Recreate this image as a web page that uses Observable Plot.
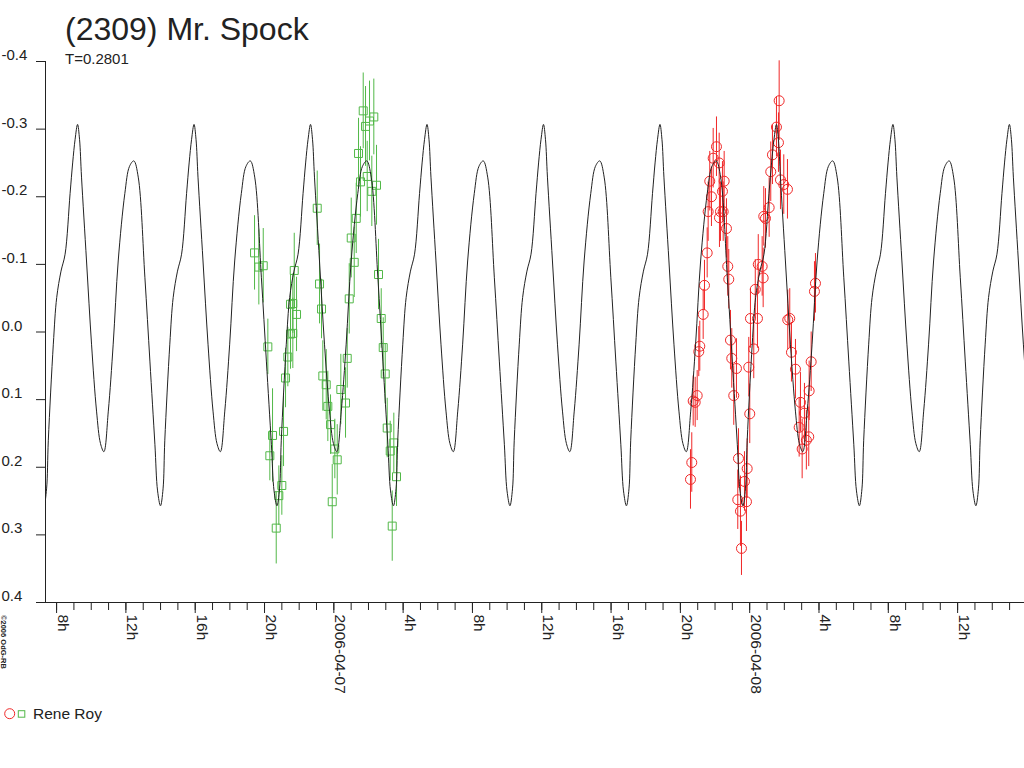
<!DOCTYPE html>
<html><head><meta charset="utf-8">
<script src="https://cdn.jsdelivr.net/npm/d3@7"></script>
<script src="https://cdn.jsdelivr.net/npm/@observablehq/plot@0.6"></script>
<style>
body{margin:0;background:#fff;font-family:"Liberation Sans",Arial,sans-serif;}
#wrap{position:relative;width:1024px;height:768px;overflow:hidden;background:#fff;}
#chart{position:absolute;left:0;top:0;}
#overlay{position:absolute;left:0;top:0;pointer-events:none;}
</style></head><body>
<div id="wrap"><div id="chart"></div><svg id="overlay" width="1024" height="768"></svg></div>
<script>
// ---- text ----
const title = "(2309) Mr. Spock";
const subtitle = "T=0.2801";
const observer = "Rene Roy";
const copyright = "\u00A92006 OdG-RB";

// ---- time frame (hours relative to 2006-04-07 00:00 UT) ----
const refDate = Date.UTC(2006, 3, 7);
const xStartHours = -16.64;
const xEndHours = 39.86;
const yTicks = [-0.4, -0.3, -0.2, -0.1, 0, 0.1, 0.2, 0.3, 0.4];

// ---- lightcurve model: period and one-period profile ----
const periodDays = 0.2801;
const epochHours = -14.79; // a primary maximum
const modelPhase = [0, 0.017, 0.034, 0.077, 0.120, 0.163, 0.197, 0.226, 0.264, 0.306, 0.349, 0.406, 0.446, 0.483, 0.521, 0.578, 0.621, 0.664, 0.687, 0.712, 0.734, 0.749, 0.792, 0.821, 0.858, 0.893, 0.936, 0.958, 0.979];
const modelMag   = [-0.307, -0.285, -0.229, -0.105, 0.018, 0.117, 0.165, 0.177, 0.117, 0.018, -0.105, -0.205, -0.245, -0.253, -0.229, -0.081, 0.043, 0.166, 0.235, 0.257, 0.232, 0.160, 0.018, -0.051, -0.090, -0.115, -0.205, -0.250, -0.285];

// ---- session 1 (green squares) ----
const greenHours = [-4.576,-4.328,-4.074,-3.808,-3.537,-3.693,-3.324,-3.174,-3.001,-2.902,-2.787,-2.654,-2.499,-2.366,-2.499,-2.366,-2.152,-2.285,-0.958,-0.825,-0.710,-0.635,-0.439,-0.346,-0.190,0.058,0.196,-0.092,0.404,0.675,0.773,0.889,1.177,1.004,1.293,1.541,1.425,1.696,1.829,2.060,2.308,1.927,2.193,2.464,2.579,2.735,2.851,2.966,3.081,3.254,3.462,3.618,3.370];
const greenMag = [-0.117,-0.096,-0.098,0.022,0.153,0.183,0.290,0.242,0.227,0.147,0.068,0.037,0.003,0.002,-0.041,-0.042,-0.026,-0.091,-0.183,-0.071,-0.034,0.065,0.078,0.110,0.137,0.173,0.189,0.251,0.085,0.105,0.039,-0.049,-0.103,-0.139,-0.168,-0.222,-0.264,-0.327,-0.304,-0.312,-0.318,-0.230,-0.208,-0.217,-0.085,-0.020,0.023,0.062,0.142,0.176,0.164,0.214,0.287];
const greenErr = [0.055,0.056,0.055,0.041,0.069,0.037,0.053,0.044,0.044,0.052,0.044,0.044,0.052,0.052,0.044,0.044,0.055,0.055,0.055,0.059,0.044,0.052,0.052,0.052,0.044,0.044,0.052,0.055,0.052,0.052,0.044,0.052,0.052,0.059,0.052,0.052,0.052,0.056,0.059,0.059,0.056,0.052,0.052,0.059,0.052,0.044,0.044,0.044,0.044,0.044,0.044,0.044,0.052];

// ---- session 2 (red circles) ----
const redHours = [20.583,20.658,20.739,20.854,20.970,21.062,21.120,21.316,21.391,21.547,21.604,21.696,21.794,21.893,22.083,22.239,22.256,22.314,22.470,22.429,22.527,22.660,22.735,22.793,22.891,22.966,23.081,23.237,23.312,23.353,23.468,23.526,23.699,23.814,23.855,23.947,24.004,24.045,24.235,24.322,24.495,24.449,24.720,24.778,24.813,24.911,25.124,25.216,25.314,25.545,25.661,25.701,25.776,25.967,26.180,26.197,26.313,26.411,26.642,26.855,26.930,27.028,27.161,27.409,27.270,27.432,27.548,27.738,27.796];
const redMag = [0.218,0.193,0.102,0.104,0.094,0.029,0.021,-0.026,-0.069,-0.117,-0.178,-0.223,-0.200,-0.257,-0.274,-0.250,-0.169,-0.178,-0.178,-0.208,-0.223,-0.153,-0.097,-0.078,0.012,0.039,0.094,0.054,0.248,0.187,0.265,0.320,0.221,0.251,0.202,0.052,0.121,-0.020,0.025,-0.063,-0.100,-0.020,-0.097,-0.080,-0.171,-0.168,-0.184,-0.237,-0.262,-0.303,-0.280,-0.342,-0.225,-0.218,-0.211,-0.018,-0.020,0.030,0.055,0.141,0.104,0.173,0.120,0.155,0.160,0.087,0.044,-0.060,-0.072];
const redErr = [0.044,0.044,0.037,0.037,0.037,0.037,0.037,0.037,0.037,0.037,0.044,0.044,0.044,0.044,0.044,0.044,0.044,0.044,0.044,0.044,0.044,0.044,0.044,0.044,0.044,0.044,0.044,0.044,0.044,0.044,0.052,0.040,0.044,0.044,0.044,0.044,0.044,0.044,0.044,0.044,0.044,0.044,0.044,0.044,0.044,0.044,0.044,0.044,0.044,0.044,0.044,0.059,0.044,0.044,0.044,0.044,0.044,0.044,0.044,0.044,0.044,0.044,0.044,0.044,0.044,0.044,0.044,0.044,0.044];

const colorGreen = "#52b848";
const colorRed = "#f02828";
const ink = "#222";

// ---- build tables ----
const toDate = h => new Date(refDate + h * 3600e3);
const green = greenHours.map((h, i) => ({t: toDate(h), mag: greenMag[i], err: greenErr[i]}));
const red = redHours.map((h, i) => ({t: toDate(h), mag: redMag[i], err: redErr[i]}));
const periodHours = periodDays * 24;
const model = [];
for (let k = -4; k <= 10; k++) {
  modelPhase.forEach((p, i) => {
    const h = epochHours + (k + p) * periodHours;
    if (h > xStartHours - periodHours && h < xEndHours + periodHours) model.push({t: toDate(h), mag: modelMag[i]});
  });
}
const xStart = toDate(xStartHours), xEnd = toDate(xEndHours);
const hourTicks = d3.utcHour.range(xStart, xEnd);
const majorTicks = d3.utcHour.every(4).range(xStart, xEnd);
const fmtX = d => d.getUTCHours() === 0 ? d3.utcFormat("%Y-%m-%d")(d) : d.getUTCHours() + "h";

const chart = Plot.plot({
  width: 1024, height: 700,
  marginLeft: 45, marginRight: 0, marginTop: 61, marginBottom: 98,
  style: {fontFamily: "'Liberation Sans', Arial, sans-serif", color: ink, background: "transparent"},
  x: {type: "utc", domain: [xStart, xEnd]},
  y: {domain: [-0.4, 0.4], reverse: true},
  marks: [
    Plot.axisX({ticks: hourTicks, tickSize: 8, tickFormat: () => "", label: null, stroke: ink}),
    Plot.axisX({ticks: majorTicks, tickSize: 11, tickFormat: () => "", label: null, stroke: ink}),
    Plot.axisY({ticks: yTicks, tickSize: 9, tickFormat: () => "", label: null, stroke: ink}),
    Plot.ruleX([xStart], {stroke: ink}),
    Plot.ruleY([0.4], {stroke: ink, insetLeft: -9}),
    Plot.text(majorTicks, {x: d => d, text: fmtX, frameAnchor: "bottom", rotate: 90, textAnchor: "start", lineAnchor: "bottom", dx: 1.5, dy: 12, fontSize: 15.5, fill: ink}),
    Plot.text(yTicks, {y: d => d, text: d => d.toFixed(1), frameAnchor: "left", textAnchor: "start", lineAnchor: "bottom", dx: -44, dy: -1.5, fontSize: 15, fill: ink}),
    Plot.ruleX(green, {x: "t", y1: d => d.mag - d.err, y2: d => d.mag + d.err, stroke: colorGreen, strokeWidth: 1}),
    Plot.dot(green, {x: "t", y: "mag", symbol: "square", r: 4.5, stroke: colorGreen, fill: "none", strokeWidth: 1}),
    Plot.ruleX(red, {x: "t", y1: d => d.mag - d.err, y2: d => d.mag + d.err, stroke: colorRed, strokeWidth: 1}),
    Plot.dot(red, {x: "t", y: "mag", symbol: "circle", r: 5, stroke: colorRed, fill: "none", strokeWidth: 1}),
    Plot.line(model, {x: "t", y: "mag", curve: "catmull-rom", stroke: ink, strokeWidth: 1, clip: true})
  ]
});
document.getElementById("chart").appendChild(chart);

// ---- overlay: title, subtitle, legend, copyright ----
const ov = d3.select("#overlay").style("font-family", "'Liberation Sans', Arial, sans-serif");
ov.append("text").attr("x", 65).attr("y", 39.5).attr("font-size", 32).attr("fill", ink).text(title);
ov.append("text").attr("x", 65).attr("y", 64).attr("font-size", 15).attr("fill", ink).text(subtitle);
ov.append("circle").attr("cx", 9.7).attr("cy", 713.7).attr("r", 5).attr("fill", "none").attr("stroke", colorRed);
ov.append("rect").attr("x", 18.3).attr("y", 710.7).attr("width", 6.5).attr("height", 6.5).attr("fill", "none").attr("stroke", colorGreen);
ov.append("text").attr("x", 33).attr("y", 718.5).attr("font-size", 15.5).attr("fill", ink).text(observer);
ov.append("text").attr("transform", "translate(0.5,615) rotate(90)").attr("font-size", 7.5).attr("font-weight", "bold").attr("fill", ink).text(copyright);
</script>
</body></html>
